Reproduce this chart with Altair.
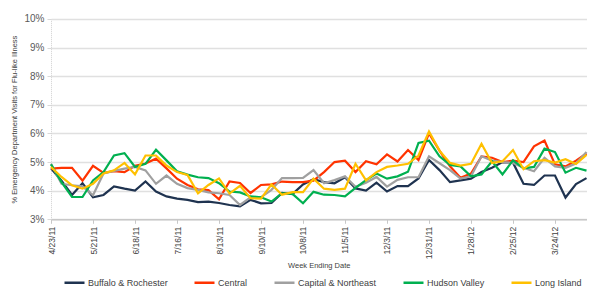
import altair as alt
import pandas as pd

# Weekly ED visit share (%) attributed to flu-like illness, by region
week_ending = pd.date_range("2011-04-23", periods=52, freq="7D").strftime("%Y-%m-%d").tolist()

regions = ["Buffalo & Rochester", "Central", "Capital & Northeast", "Hudson Valley", "Long Island"]
colors = ["#1f3350", "#ff3300", "#a0a0a0", "#00b050", "#ffc000"]

buffalo_rochester = [4.78, 4.35, 3.85, 4.26, 3.77, 3.85, 4.15, 4.07, 4.00, 4.32,
                     3.97, 3.80, 3.72, 3.68, 3.60, 3.62, 3.57, 3.50, 3.45, 3.68,
                     3.56, 3.57, 3.92, 3.88, 4.22, 4.40, 4.30, 4.26, 4.47, 4.08,
                     4.00, 4.28, 3.97, 4.16, 4.16, 4.43, 5.07, 4.72, 4.30, 4.36,
                     4.42, 4.65, 4.80, 5.00, 4.98, 4.24, 4.20, 4.53, 4.53, 3.76,
                     4.23, 4.44]
central = [4.77, 4.80, 4.80, 4.35, 4.87, 4.62, 4.68, 4.65, 4.87, 4.95,
           5.12, 4.78, 4.42, 4.20, 4.05, 4.02, 3.70, 4.32, 4.27, 3.92,
           4.20, 4.22, 4.32, 4.30, 4.30, 4.35, 4.65, 5.00, 5.05, 4.65,
           5.03, 4.92, 5.27, 5.02, 5.42, 5.07, 6.00, 5.40, 4.85, 4.45,
           4.60, 5.20, 5.15, 5.00, 5.05, 5.00, 5.55, 5.75, 4.92, 4.85,
           5.05, 5.30]
capital_northeast = [4.94, 4.24, 4.19, 4.15, 3.84, 4.60, 4.69, 4.77, 4.83, 4.71,
                     4.24, 4.53, 4.24, 4.09, 4.03, 3.94, 3.91, 3.85, 3.50, 3.77,
                     3.77, 4.03, 4.44, 4.44, 4.45, 4.72, 4.26, 4.37, 4.50, 4.14,
                     4.28, 4.48, 4.14, 4.38, 4.47, 4.47, 5.20, 4.96, 4.72, 4.42,
                     4.50, 5.20, 5.05, 5.00, 4.97, 4.80, 4.68, 5.15, 4.85, 4.80,
                     4.95, 5.35]
hudson_valley = [4.92, 4.30, 3.78, 3.78, 4.36, 4.65, 5.23, 5.31, 4.83, 4.94,
                 5.43, 5.06, 4.68, 4.56, 4.47, 4.44, 4.26, 3.97, 3.94, 3.80,
                 3.77, 3.62, 3.91, 3.89, 3.56, 3.96, 3.86, 3.85, 3.80, 4.10,
                 4.37, 4.60, 4.42, 4.50, 4.66, 5.67, 5.75, 5.20, 4.90, 4.85,
                 4.50, 4.57, 5.03, 4.57, 5.06, 4.78, 4.83, 5.47, 5.35, 4.63,
                 4.80, 4.70]
long_island = [4.83, 4.48, 4.19, 4.07, 4.24, 4.60, 4.71, 4.97, 4.57, 5.23,
               5.23, 4.88, 4.65, 4.55, 3.91, 4.20, 4.43, 3.90, 4.17, 3.74,
               3.72, 4.22, 3.86, 3.95, 3.95, 4.42, 4.07, 4.03, 4.07, 4.94,
               4.36, 4.65, 4.83, 4.88, 4.94, 5.23, 6.07, 5.40, 4.97, 4.88,
               4.94, 5.64, 4.97, 5.03, 5.42, 4.75, 5.03, 5.07, 4.98, 5.10,
               4.93, 5.25]

series = [buffalo_rochester, central, capital_northeast, hudson_valley, long_island]

y_ticks = [3, 4, 5, 6, 7, 8, 9, 10]
tick_weeks = week_ending[::4]

rows = []
for name, values in zip(regions, series):
    for wk, v in zip(week_ending, values):
        rows.append({"week": wk, "region": name, "pct": v})
df = pd.DataFrame(rows)


def utc_day(s):
    y, m, d = (int(p) for p in s.split("-"))
    return alt.DateTime(year=y, month=m, date=d, utc=True)


chart = alt.Chart(df).mark_line(strokeWidth=2.2, strokeJoin="miter").encode(
    x=alt.X(
        "week:T",
        title="Week Ending Date",
        scale=alt.Scale(type="utc", domain=[utc_day(week_ending[0]), utc_day(week_ending[-1])], nice=False),
        axis=alt.Axis(
            values=[utc_day(w) for w in tick_weeks],
            format="%-m/%-d/%y",
            labelAngle=-90,
            labelFontSize=8.5,
            labelColor="#404040",
            labelPadding=3,
            tickSize=4,
            tickColor="#c8c8c8",
            domainColor="#c8c8c8",
            domainWidth=1.5,
            grid=False,
            titleFontSize=7.5,
            titleFontWeight="normal",
            titleColor="#404040",
            titleY=46,
            titleBaseline="middle",
        ),
    ),
    y=alt.Y(
        "pct:Q",
        title="% Emergency Department Visits for Flu-like Illness",
        scale=alt.Scale(domain=[3, 10], nice=False, zero=False),
        axis=alt.Axis(
            values=y_ticks,
            labelExpr="datum.value + '%'",
            labelFontSize=10,
            labelColor="#595959",
            labelPadding=3,
            tickSize=4,
            tickColor="#d9d9d9",
            domainColor="#d0d0d0",
            domainDash=[1, 1],
            grid=True,
            gridColor="#e0e0e0",
            gridWidth=1.5,
            titleFontSize=7.5,
            titleFontWeight="normal",
            titleColor="#404040",
            titleX=-37,
            titleBaseline="middle",
        ),
    ),
    color=alt.Color(
        "region:N",
        scale=alt.Scale(domain=regions, range=colors),
        legend=alt.Legend(
            title=None,
            orient="none",
            legendX=12,
            legendY=252,
            direction="horizontal",
            symbolType="stroke",
            symbolSize=400,
            symbolStrokeWidth=2.5,
            labelFontSize=9,
            labelColor="#404040",
            labelOffset=2,
            columnPadding=21,
        ),
    ),
    order=alt.Order("week:T"),
).properties(
    width=535.5,
    height=200.3,
    autosize=alt.AutoSizeParams(type="none"),
    padding={"left": 51, "top": 19, "right": 13, "bottom": 81},
).configure(
    font="Liberation Sans",
).configure_view(
    stroke=None,
)

chart.save("out.html", embed_options={"renderer": "svg", "actions": False})
